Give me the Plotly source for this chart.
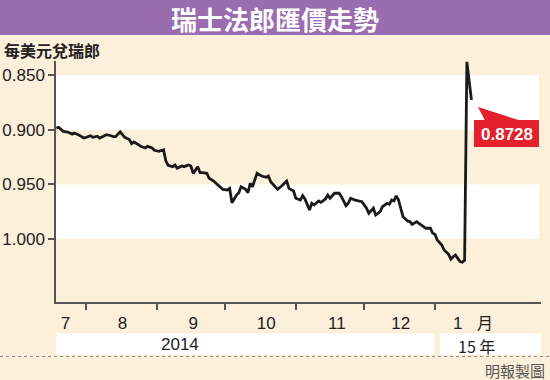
import plotly.graph_objects as go

# ---------------- data ----------------
dates = [
    "2014-07-19", "2014-07-20", "2014-07-22", "2014-07-24", "2014-07-26", "2014-07-27", "2014-07-29", "2014-07-31",
    "2014-08-01", "2014-08-03", "2014-08-04", "2014-08-06", "2014-08-07", "2014-08-09", "2014-08-10", "2014-08-12",
    "2014-08-13", "2014-08-14", "2014-08-16", "2014-08-18", "2014-08-20", "2014-08-21", "2014-08-22", "2014-08-24",
    "2014-08-25", "2014-08-27", "2014-08-28", "2014-08-30", "2014-08-31", "2014-09-02", "2014-09-04", "2014-09-05",
    "2014-09-06", "2014-09-08", "2014-09-09", "2014-09-10", "2014-09-12", "2014-09-13", "2014-09-15", "2014-09-16",
    "2014-09-17", "2014-09-19", "2014-09-20", "2014-09-21", "2014-09-23", "2014-09-24", "2014-09-26", "2014-09-27",
    "2014-09-29", "2014-09-30", "2014-10-02", "2014-10-03", "2014-10-04", "2014-10-06", "2014-10-07", "2014-10-08",
    "2014-10-10", "2014-10-11", "2014-10-12", "2014-10-13", "2014-10-15", "2014-10-17", "2014-10-19", "2014-10-20",
    "2014-10-21", "2014-10-23", "2014-10-24", "2014-10-26", "2014-10-27", "2014-10-28", "2014-10-29", "2014-10-31",
    "2014-11-01", "2014-11-03", "2014-11-04", "2014-11-05", "2014-11-07", "2014-11-08", "2014-11-09", "2014-11-11",
    "2014-11-12", "2014-11-14", "2014-11-15", "2014-11-16", "2014-11-18", "2014-11-20", "2014-11-21", "2014-11-23",
    "2014-11-24", "2014-11-25", "2014-11-27", "2014-11-29", "2014-11-30", "2014-12-02", "2014-12-03", "2014-12-05",
    "2014-12-06", "2014-12-08", "2014-12-09", "2014-12-11", "2014-12-12", "2014-12-13", "2014-12-14", "2014-12-15",
    "2014-12-16", "2014-12-17", "2014-12-18", "2014-12-20", "2014-12-21", "2014-12-22", "2014-12-24", "2014-12-25",
    "2014-12-27", "2014-12-28", "2014-12-30", "2014-12-31", "2015-01-01", "2015-01-02", "2015-01-04", "2015-01-05",
    "2015-01-07", "2015-01-08", "2015-01-09", "2015-01-10", "2015-01-11", "2015-01-12", "2015-01-13", "2015-01-14",
    "2015-01-15", "2015-01-17",
]
usd_chf = [
    0.8985, 0.8978, 0.9015, 0.9021, 0.9040, 0.9030, 0.9050, 0.9076,
    0.9070, 0.9055, 0.9070, 0.9060, 0.9076, 0.9060, 0.9046, 0.9055,
    0.9064, 0.9064, 0.9020, 0.9070, 0.9090, 0.9128, 0.9112, 0.9137,
    0.9152, 0.9167, 0.9152, 0.9167, 0.9188, 0.9197, 0.9183, 0.9285,
    0.9325, 0.9338, 0.9323, 0.9353, 0.9332, 0.9338, 0.9323, 0.9332,
    0.9399, 0.9338, 0.9393, 0.9393, 0.9399, 0.9444, 0.9469, 0.9490,
    0.9521, 0.9545, 0.9551, 0.9536, 0.9667, 0.9597, 0.9576, 0.9521,
    0.9545, 0.9576, 0.9490, 0.9521, 0.9399, 0.9423, 0.9435, 0.9423,
    0.9475, 0.9526, 0.9545, 0.9510, 0.9485, 0.9469, 0.9536, 0.9560,
    0.9627, 0.9643, 0.9603, 0.9633, 0.9734, 0.9673, 0.9688, 0.9652,
    0.9664, 0.9633, 0.9597, 0.9627, 0.9581, 0.9581, 0.9612, 0.9695,
    0.9673, 0.9627, 0.9643, 0.9652, 0.9658, 0.9718, 0.9764, 0.9718,
    0.9780, 0.9749, 0.9704, 0.9673, 0.9682, 0.9643, 0.9652, 0.9605,
    0.9640, 0.9718, 0.9795, 0.9834, 0.9840, 0.9865, 0.9840, 0.9856,
    0.9886, 0.9901, 0.9901, 0.9947, 0.9956, 1.0008, 1.0054, 1.0100,
    1.0139, 1.0182, 1.0161, 1.0145, 1.0176, 1.0206, 1.0212, 1.0195,
    0.8380, 0.8728,
]
y_ticks = [0.85, 0.90, 0.95, 1.00]
y_tick_labels = ["0.850", "0.900", "0.950", "1.000"]
month_starts = ["2014-08-01", "2014-09-01", "2014-10-01", "2014-11-01", "2014-12-01", "2015-01-01"]
month_label_dates = ["2014-07-23", "2014-08-17", "2014-09-17", "2014-10-19", "2014-11-19", "2014-12-17", "2015-01-11"]
month_labels = ["7", "8", "9", "10", "11", "12", "1"]
last_label = "0.8728"
title_text = "瑞士法郎匯價走勢"
unit_text = "每美元兌瑞郎"
year_2014 = "2014"
year_2015 = "15 年"
month_unit = "月"
credit = "明報製圖"

# ---------------- layout geometry (pixels) ----------------
W_PX, H_PX = 550, 380
L, R, T, B = 56, 541, 61, 302
PW, PH = R - L, B - T


def px(x):
    return (x - L) / PW


def py(y):
    return (B - y) / PH


CREAM = "#FDF0DB"
PURPLE = "#9A6CB0"
RED = "#E3202B"
AXIS = "#555555"
NUM_FONT = "Liberation Sans, Arial, sans-serif"
CJK_FONT = "Noto Sans CJK TC, Noto Sans CJK SC, sans-serif"

fig = go.Figure()
fig.add_trace(go.Scatter(
    x=dates, y=usd_chf, mode="lines",
    line=dict(color="#1a1a1a", width=2.8),
    showlegend=False, hoverinfo="skip",
))

shapes = []
# white bands
for y0, y1 in [(0.85, 0.90), (0.95, 1.00)]:
    shapes.append(dict(type="rect", xref="paper", yref="y", x0=0, x1=px(539), y0=y0, y1=y1,
                       fillcolor="white", line=dict(width=0), layer="below"))
# title bar
shapes.append(dict(type="rect", xref="paper", yref="paper", x0=px(0), x1=px(550), y0=py(35), y1=py(0),
                   fillcolor=PURPLE, line=dict(width=0)))
# year bands
shapes.append(dict(type="rect", xref="paper", yref="paper", x0=px(56), x1=px(434), y0=py(354.5), y1=py(333.5),
                   fillcolor="white", line=dict(width=0)))
shapes.append(dict(type="rect", xref="paper", yref="paper", x0=px(440), x1=px(541), y0=py(354.5), y1=py(333.5),
                   fillcolor="white", line=dict(width=0)))
# dotted separator
shapes.append(dict(type="line", xref="paper", yref="paper", x0=px(0), x1=px(550), y0=py(356.5), y1=py(356.5),
                   line=dict(color="#8a8a8a", width=1.2, dash="dot")))
# red callout
shapes.append(dict(type="rect", xref="paper", yref="paper", x0=px(474), x1=px(539), y0=py(147), y1=py(120),
                   fillcolor=RED, line=dict(width=0)))
shapes.append(dict(type="path", xref="paper", yref="paper",
                   path=f"M {px(478)} {py(107)} L {px(485)} {py(120.5)} L {px(520)} {py(120.5)} Z",
                   fillcolor=RED, line=dict(width=0)))

annotations = [
    dict(text=f"<b>{title_text}</b>", xref="paper", yref="paper", x=px(275), y=py(18.5),
         xanchor="center", yanchor="middle", showarrow=False,
         font=dict(family=CJK_FONT, size=26, color="white")),
    dict(text=f"<b>{unit_text}</b>", xref="paper", yref="paper", x=px(2), y=py(50),
         xanchor="left", yanchor="middle", showarrow=False,
         font=dict(family=CJK_FONT, size=16, color="#222222")),
    dict(text=f"<b>{last_label}</b>", xref="paper", yref="paper", x=px(506.5), y=py(134),
         xanchor="center", yanchor="middle", showarrow=False,
         font=dict(family=NUM_FONT, size=17, color="white")),
    dict(text=month_unit, xref="paper", yref="paper", x=px(485), y=py(321.5),
         xanchor="center", yanchor="middle", showarrow=False,
         font=dict(family=CJK_FONT, size=16, color="#222222")),
    dict(text=year_2014, xref="paper", yref="paper", x=px(180), y=py(344.5),
         xanchor="center", yanchor="middle", showarrow=False,
         font=dict(family=NUM_FONT, size=17, color="#222222")),
    dict(text=year_2015, xref="paper", yref="paper", x=px(456), y=py(345.5),
         xanchor="left", yanchor="middle", showarrow=False,
         font=dict(family=CJK_FONT, size=16, color="#222222")),
    dict(text=credit, xref="paper", yref="paper", x=px(547), y=py(370),
         xanchor="right", yanchor="middle", showarrow=False,
         font=dict(family=CJK_FONT, size=15, color="#555555")),
]

fig.update_layout(
    width=W_PX, height=H_PX, autosize=False,
    margin=dict(l=L, r=W_PX - R, t=T, b=H_PX - B, pad=0, autoexpand=False),
    paper_bgcolor=CREAM, plot_bgcolor=CREAM,
    shapes=shapes, annotations=annotations,
    xaxis=dict(
        type="date", range=["2014-07-18 20:24", "2015-02-16 12:00"], automargin=False,
        tickmode="array", tickvals=month_label_dates, ticktext=month_labels,
        ticks="", ticklabelstandoff=5,
        minor=dict(tickmode="array", tickvals=month_starts, ticks="outside", ticklen=6,
                   tickwidth=1.5, tickcolor=AXIS, showgrid=False),
        showline=True, linecolor=AXIS, linewidth=1.5,
        showgrid=False, zeroline=False,
        tickfont=dict(family=NUM_FONT, size=17, color="#222222"),
    ),
    yaxis=dict(
        range=[1.0575, 0.8372], automargin=False,
        tickmode="array", tickvals=y_ticks, ticktext=y_tick_labels,
        ticks="outside", ticklen=6, tickwidth=1.5, tickcolor=AXIS,
        showline=True, linecolor=AXIS, linewidth=1.5,
        showgrid=False, zeroline=False,
        tickfont=dict(family=NUM_FONT, size=17, color="#222222"),
    ),
)

fig.write_html(
    "out.html",
    config={"displayModeBar": False},
    post_script="document.body.style.margin='0';document.body.style.padding='0';document.body.style.overflow='hidden';",
)
